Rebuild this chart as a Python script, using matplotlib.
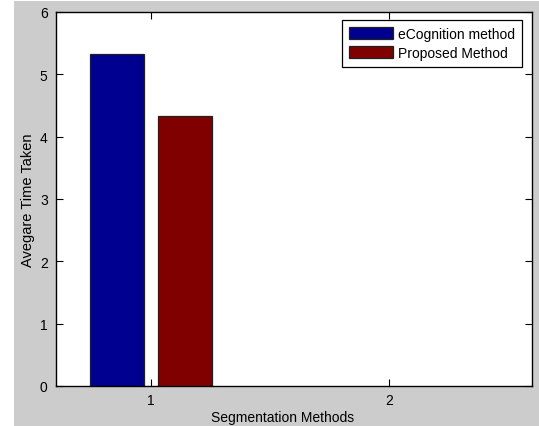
import matplotlib
matplotlib.use("Agg")
import matplotlib.pyplot as plt
from matplotlib.patches import Rectangle

groups = [1, 2]
series_names = ["eCognition method", "Proposed Method"]
ecognition = [5.33, 0]
proposed = [4.33, 0]
colors = ["#000090", "#800000"]
xticks = [1, 2]
yticks = [0, 1, 2, 3, 4, 5, 6]

plt.rcParams['font.family'] = ['Liberation Sans', 'DejaVu Sans']

W, H = 539, 427
fig = plt.figure(figsize=(W / 100, H / 100), dpi=100)
fig.patch.set_facecolor('white')
fig.patches.append(Rectangle((14 / W, 0), 1 - 14 / W, 1 - 2 / H, transform=fig.transFigure,
                             facecolor='#cccccc', edgecolor='none', zorder=-10))

ax = fig.add_axes([56 / W, 40 / H, 476 / W, 374 / H])
ax.set_facecolor('white')

gw = 2 / 3.5
bw = gw / 2 * 0.8
offs = [-gw / 4, gw / 4]
for vals, off, c, name in zip([ecognition, proposed], offs, colors, series_names):
    xs = [g + off for g, v in zip(groups, vals) if v != 0]
    hs = [v for v in vals if v != 0]
    ax.bar(xs, hs, width=bw, color=c, edgecolor='#202020',
           linewidth=0.9, label=name, zorder=2)

ax.set_xlim(0.6, 2.6)
ax.set_ylim(0, 6)
ax.set_xticks(xticks)
ax.set_yticks(yticks)
ax.tick_params(direction='in', length=5, width=0.8, top=True, right=True,
               labelsize=10, colors='black')
ax.tick_params(axis='x', pad=5)
ax.tick_params(axis='y', pad=6)
for s in ax.spines.values():
    s.set_linewidth(1.0)
    s.set_color('black')

ax.set_xlabel('Segmentation Methods', fontsize=10)
ax.xaxis.set_label_coords((283 - 56) / 476, -24 / 374)
ax.set_ylabel('Avegare Time Taken', fontsize=10.5)
ax.yaxis.set_label_coords(-(56 - 35) / 476, 0.5)

leg = ax.legend(loc='upper right', bbox_to_anchor=((522 - 56) / 476, (387 - 21) / 374),
                fontsize=10, frameon=True, fancybox=False, framealpha=1,
                edgecolor='black', handlelength=3.15, handleheight=1.0,
                handletextpad=0.36, borderpad=0.5, labelspacing=0.36,
                borderaxespad=0)
leg.get_frame().set_linewidth(0.9)

fig.savefig('out.png', dpi=100, facecolor=fig.get_facecolor())
